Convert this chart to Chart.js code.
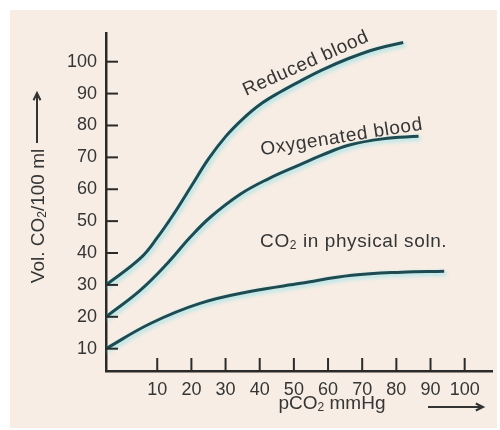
<!DOCTYPE html>
<html>
<head>
<meta charset="utf-8">
<script src="https://cdn.jsdelivr.net/npm/chart.js@4/dist/chart.umd.min.js"></script>
<style>
  html, body { margin: 0; padding: 0; background: #fff; }
  #wrap { width: 500px; height: 430px; }
</style>
</head>
<body>
<div id="wrap"><canvas id="co2Chart" width="500" height="430"></canvas></div>
<script>
// tick values on both axes
const xTicks = [10, 20, 30, 40, 50, 60, 70, 80, 90, 100];
const yTicks = [10, 20, 30, 40, 50, 60, 70, 80, 90, 100];

// pCO2 (mmHg) / vol CO2 per 100 ml
const reducedX = [-5, 5, 10, 15, 20, 25, 30, 35, 40, 46, 52, 58, 66, 74, 82];
const reducedY = [30, 38.3, 44.8, 52.5, 61, 69.5, 76.5, 82, 86.5, 90.5, 94, 97.3, 101, 104, 106];

const oxyX = [-5, 5, 13, 19.7, 25.6, 34.4, 42.4, 52, 58, 66, 76, 86.5];
const oxyY = [20, 28.3, 36.8, 45, 51.3, 58.5, 63.2, 67.8, 70.6, 73.8, 75.8, 76.6];

const physX = [-5, 8, 22.5, 37.5, 52, 67, 81.5, 94];
const physY = [10, 17.9, 24.2, 28, 30.5, 33, 34, 34.3];

const FONT = "'Liberation Sans', Arial, sans-serif";
const INK = '#353535';
const AXIS = '#2a2a2a';
const CURVE = '#1e4a52';

const toPoints = (xs, ys) => xs.map((x, i) => ({ x: x, y: ys[i] }));

// draws text with subscript parts: [[text, isSub], ...]
function subText(ctx, parts, x, y, size, align) {
    const subSize = Math.round(size * 0.62);
    let total = 0;
    parts.forEach(p => {
        ctx.font = (p[1] ? subSize : size) + 'px ' + FONT;
        total += ctx.measureText(p[0]).width;
    });
    let cx = align === 'center' ? x - total / 2 : x;
    ctx.textAlign = 'left';
    parts.forEach(p => {
        ctx.font = (p[1] ? subSize : size) + 'px ' + FONT;
        ctx.fillText(p[0], cx, p[1] ? y + size * 0.22 : y);
        cx += ctx.measureText(p[0]).width;
    });
}

function arrow(ctx, x1, y1, x2, y2) {
    const a = Math.atan2(y2 - y1, x2 - x1);
    ctx.beginPath();
    ctx.moveTo(x1, y1);
    ctx.lineTo(x2, y2);
    ctx.stroke();
    ctx.beginPath();
    ctx.moveTo(x2 - 8 * Math.cos(a - 0.45), y2 - 8 * Math.sin(a - 0.45));
    ctx.lineTo(x2, y2);
    ctx.lineTo(x2 - 8 * Math.cos(a + 0.45), y2 - 8 * Math.sin(a + 0.45));
    ctx.stroke();
}

const paper = {
    id: 'paper',
    beforeDraw(chart) {
        const ctx = chart.ctx;
        ctx.save();
        ctx.fillStyle = '#f7ede4';
        ctx.fillRect(10, 10, 487, 418);
        ctx.restore();
    }
};

// light cyan halo under each curve
const glow = {
    id: 'glow',
    beforeDatasetDraw(chart) {
        const ctx = chart.ctx;
        ctx.save();
        ctx.shadowColor = 'rgba(150, 228, 236, 1)';
        ctx.shadowBlur = 4;
        ctx.shadowOffsetX = 2;
        ctx.shadowOffsetY = 2;
    },
    afterDatasetDraw(chart) {
        chart.ctx.restore();
    }
};

const decor = {
    id: 'decor',
    afterDraw(chart) {
        const ctx = chart.ctx;
        const xs = chart.scales.x, ys = chart.scales.y;
        const area = chart.chartArea;
        ctx.save();
        ctx.strokeStyle = AXIS;
        ctx.lineWidth = 2;
        // inward tick marks
        yTicks.forEach(v => {
            const py = ys.getPixelForValue(v);
            ctx.beginPath();
            ctx.moveTo(area.left, py);
            ctx.lineTo(area.left + 12, py);
            ctx.stroke();
        });
        xTicks.forEach(v => {
            const px = xs.getPixelForValue(v);
            ctx.beginPath();
            ctx.moveTo(px, area.bottom);
            ctx.lineTo(px, area.bottom - 13);
            ctx.stroke();
        });

        ctx.fillStyle = INK;
        ctx.textBaseline = 'middle';

        // curve labels
        const label = (parts, x, y, angle) => {
            ctx.save();
            ctx.translate(xs.getPixelForValue(x), ys.getPixelForValue(y));
            ctx.rotate(angle * Math.PI / 180);
            ctx.letterSpacing = '0.6px';
            subText(ctx, parts, 0, 0, 19, 'center');
            ctx.restore();
        };
        label([['Reduced blood', false]], 53.5, 99.4, -24);
        label([['Oxygenated blood', false]], 64, 76.3, -9);
        label([['CO', false], ['2', true], [' in physical soln.', false]], 67.5, 43.5, 0);

        // axis titles
        ctx.save();
        ctx.translate(39, 216);
        ctx.rotate(-Math.PI / 2);
        subText(ctx, [['Vol. CO', false], ['2', true], ['/100 ml', false]], 0, 0, 19, 'center');
        ctx.restore();
        subText(ctx, [['pCO', false], ['2', true], [' mmHg', false]], 332, 404, 19, 'center');

        ctx.lineWidth = 2;
        ctx.strokeStyle = '#333';
        arrow(ctx, 37, 143, 37, 93);
        arrow(ctx, 428, 407, 483, 407);
        ctx.restore();
    }
};

const lineStyle = {
    borderColor: CURVE,
    borderWidth: 3,
    pointRadius: 0,
    fill: false,
    tension: 0.4
};

const chart = new Chart(document.getElementById('co2Chart').getContext('2d'), {
    type: 'line',
    data: {
        datasets: [
            Object.assign({ label: 'Reduced blood', data: toPoints(reducedX, reducedY) }, lineStyle),
            Object.assign({ label: 'Oxygenated blood', data: toPoints(oxyX, oxyY) }, lineStyle),
            Object.assign({ label: 'CO2 in physical soln.', data: toPoints(physX, physY) }, lineStyle)
        ]
    },
    options: {
        responsive: false,
        animation: false,
        layout: { padding: { left: 0, top: 33, right: 8, bottom: 0 } },
        plugins: {
            legend: { display: false },
            tooltip: { enabled: false }
        },
        scales: {
            x: {
                type: 'linear',
                min: -5,
                max: 108,
                afterBuildTicks: s => { s.ticks = xTicks.map(v => ({ value: v })); },
                afterFit: s => { s.height = 59; },
                grid: { display: false, drawTicks: false, tickLength: 0 },
                border: { display: true, color: AXIS, width: 2.5 },
                ticks: {
                    color: INK,
                    font: { family: FONT, size: 18 },
                    padding: 8,
                    maxRotation: 0,
                    autoSkip: false
                }
            },
            y: {
                min: 3,
                max: 109,
                afterBuildTicks: s => { s.ticks = yTicks.map(v => ({ value: v })); },
                afterFit: s => { s.width = 106; },
                grid: { display: false, drawTicks: false, tickLength: 0 },
                border: { display: true, color: AXIS, width: 2.5 },
                ticks: {
                    color: INK,
                    font: { family: FONT, size: 18 },
                    padding: 9
                }
            }
        }
    },
    plugins: [paper, glow, decor]
});
</script>
</body>
</html>
